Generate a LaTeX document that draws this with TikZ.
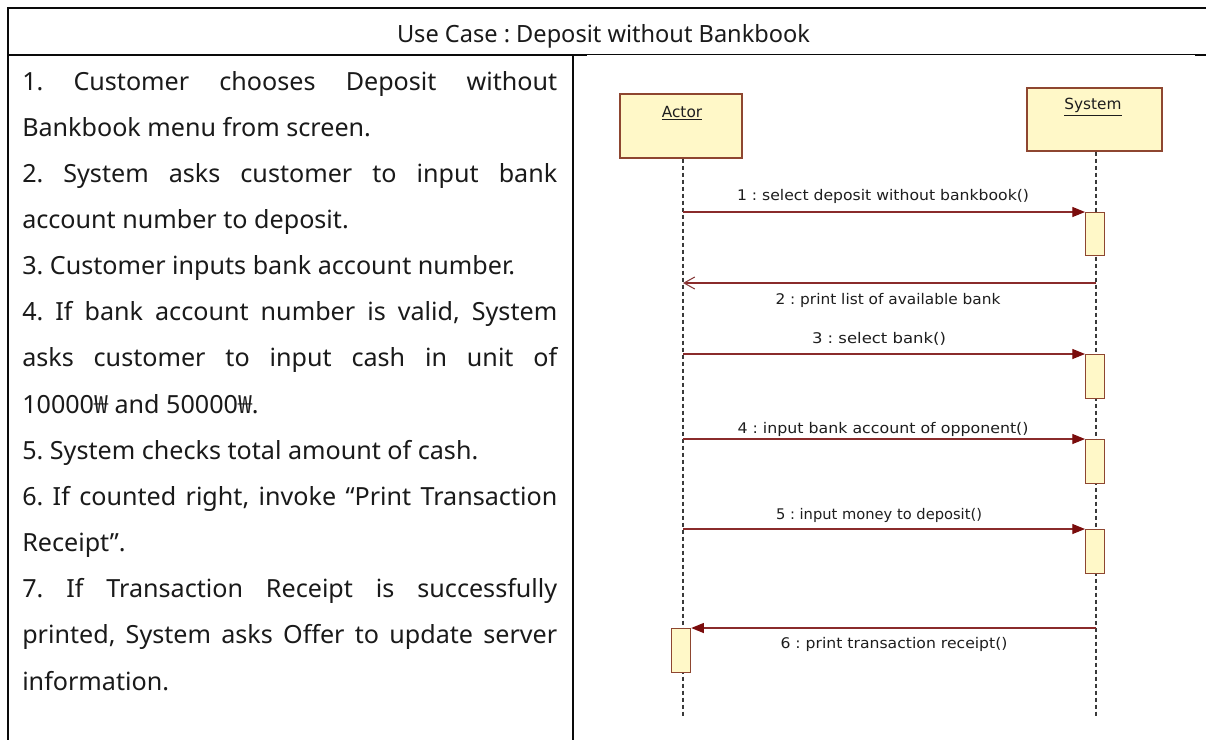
\documentclass[tikz,border=0pt]{standalone}
\usepackage{fontspec}
\usepackage{graphicx}
\setmainfont{Noto Sans}
\newfontfamily\umlfont{DejaVu Sans}
\newfontfamily\wonfont{Noto Sans CJK KR}
\usetikzlibrary{arrows.meta}

\definecolor{ink}{HTML}{1A1A1A}
\definecolor{rulecol}{HTML}{0A0A0A}
\definecolor{lifecol}{HTML}{3A3A3A}
\definecolor{boxfill}{HTML}{FFF8C8}
\definecolor{boxedge}{HTML}{8E4630}
\definecolor{msgcol}{HTML}{8A2B2B}
\definecolor{tipcol}{HTML}{7A0C0C}
\definecolor{lblcol}{HTML}{1E1E1E}

% horizontal fit of a text to a given width (in px)
\newlength\fitlen
\newcommand\fitto[2]{\settowidth\fitlen{#2}\pgfmathsetmacro\fitsx{#1*0.75/\fitlen}\scalebox{\fitsx}[1]{#2}}
\newlength\reflen
\newcommand\won{{\wonfont ₩}}
\newcommand\bodyfont{\fontsize{18.75pt}{22pt}\selectfont}
\newcommand\titlefont{\fontsize{17.8pt}{21pt}\selectfont}
\newcommand\umlsmall{\umlfont\fontsize{11pt}{13pt}\selectfont}
\newcommand\umlname{\umlfont\fontsize{11.5pt}{13pt}\selectfont}
% justified and ragged lines of the left column
\newcommand\jline[1]{\scalebox{\bsx}[1]{\makebox[\jw][s]{#1}}}
\newcommand\rline[1]{\scalebox{\bsx}[1]{#1}}
\frenchspacing

\begin{document}
% horizontal scale of the left column, from one ragged line of known width
\settowidth\reflen{\bodyfont 5. System checks total amount of cash.}
\pgfmathsetmacro\bsx{342/\reflen}
\pgfmathsetlengthmacro\jw{401.25/\bsx}
\begin{tikzpicture}[x=0.75pt,y=-0.75pt,
  bodyline/.style={anchor=base west, inner sep=0pt, font=\bodyfont, text=ink},
  tablerule/.style={draw=rulecol, line width=1.5pt},
  thinrule/.style={draw=rulecol, line width=0.75pt},
  classbox/.style={draw=boxedge, fill=boxfill, line width=0.9pt, inner sep=0pt},
  activ/.style={draw=boxedge, fill=boxfill, line width=0.9pt, inner sep=0pt, minimum width=14.25pt},
  lifeline/.style={draw=lifecol, line width=0.8pt, dash pattern=on 3pt off 2.25pt},
  msgline/.style={draw=msgcol, line width=0.9pt, -{Triangle[length=9.5pt,width=7.5pt,color=tipcol]}},
  retline/.style={draw=msgcol, line width=0.8pt, -{Straight Barb[length=8pt,width=9pt,color=msgcol!80!gray]}},
  msglabel/.style={inner sep=0pt, font=\umlsmall, text=lblcol, text height=0.75em, text depth=0.25em},
  namelabel/.style={inner sep=0pt, font=\umlname, text=lblcol}
]
\useasboundingbox (0,0) rectangle (1206,740);
\fill[white] (0,0) rectangle (1206,740);

% table frame
\draw[tablerule] (7,8) -- (1206,8);
\draw[tablerule] (8,7) -- (8,740);
\draw[tablerule] (7,54.5) -- (587,54.5);
\draw[thinrule] (587,54.5) -- (1195,54.5);
\draw[tablerule] (1195,54.8) -- (1206,54.8);
\draw[tablerule] (573,55) -- (573,740);

% title row
\node[anchor=base, inner sep=0pt, font=\titlefont, text=ink] (title) at (603.5,42.7)
  {\fitto{413}{Use Case : Deposit without Bankbook}};

% left column text
\node[bodyline] (t0)  at (22,90.0)   {\jline{1. Customer chooses Deposit without}};
\node[bodyline] (t1)  at (22,136.15) {\rline{Bankbook menu from screen.}};
\node[bodyline] (t2)  at (22,182.3)  {\jline{2. System asks customer to input bank}};
\node[bodyline] (t3)  at (22,228.45) {\rline{account number to deposit.}};
\node[bodyline] (t4)  at (22,274.6)  {\rline{3. Customer inputs bank account number.}};
\node[bodyline] (t5)  at (22,320.75) {\jline{4. If bank account number is valid, System}};
\node[bodyline] (t6)  at (22,366.9)  {\jline{asks customer to input cash in unit of}};
\node[bodyline] (t7)  at (22,413.05) {\rline{10000\won{} and 50000\won.}};
\node[bodyline] (t8)  at (22,459.2)  {\rline{5. System checks total amount of cash.}};
\node[bodyline] (t9)  at (22,505.35) {\jline{6. If counted right, invoke “Print Transaction}};
\node[bodyline] (t10) at (22,551.5)  {\rline{Receipt”.}};
\node[bodyline] (t11) at (22,597.65) {\jline{7. If Transaction Receipt is successfully}};
\node[bodyline] (t12) at (22,643.8)  {\jline{printed, System asks Offer to update server}};
\node[bodyline] (t13) at (22,690.0)  {\rline{information.}};

% sequence diagram: objects
\node[classbox, minimum width=91.5pt, minimum height=48pt] (actor) at (681,126) {};
\node[classbox, minimum width=101.25pt, minimum height=47.25pt] (system) at (1094.5,119.5) {};
\node[namelabel] (actorname) at (682,113) {\underline{Actor}};
\node[namelabel] (systemname) at (1093,107) {\underline{System}};

% lifelines
\coordinate (aend) at (683,717);
\coordinate (send) at (1096,717);
\draw[lifeline] (actor.south -| aend) -- (aend);
\draw[lifeline] (system.south -| send) -- (send);

% activation bars
\node[activ, anchor=north west, minimum height=32.25pt] (a1) at (1085,212) {};
\node[activ, anchor=north west, minimum height=33pt]    (a3) at (1085,354) {};
\node[activ, anchor=north west, minimum height=33pt]    (a4) at (1085,439) {};
\node[activ, anchor=north west, minimum height=33pt]    (a5) at (1085,529) {};
\node[activ, anchor=north west, minimum height=33pt]    (a6) at (671,628) {};

% messages
\coordinate (m1) at (683,212);
\coordinate (r2a) at (1096,283);
\coordinate (r2b) at (683,283);
\coordinate (m3) at (683,354);
\coordinate (m4) at (683,439);
\coordinate (m5) at (683,529);
\coordinate (m6) at (1096,628);
\draw[msgline] (m1) -- (a1.north west);
\draw[retline] (r2a) -- (r2b);
\draw[msgline] (m3) -- (a3.north west);
\draw[msgline] (m4) -- (a4.north west);
\draw[msgline] (m5) -- (a5.north west);
\draw[msgline] (m6) -- (a6.north east);

% message labels
\node[msglabel] (l1) at (883,197.5) {\fitto{292}{1 : select deposit without bankbook()}};
\node[msglabel] (l2) at (888,301.5) {\fitto{225}{2 : print list of available bank}};
\node[msglabel] (l3) at (879,340.5) {\fitto{134}{3 : select bank()}};
\node[msglabel] (l4) at (883,430.5) {\fitto{291}{4 : input bank account of opponent()}};
\node[msglabel] (l5) at (879,516)   {\fitto{206}{5 : input money to deposit()}};
\node[msglabel] (l6) at (894,645.5) {\fitto{227}{6 : print transaction receipt()}};
\end{tikzpicture}
\end{document}
